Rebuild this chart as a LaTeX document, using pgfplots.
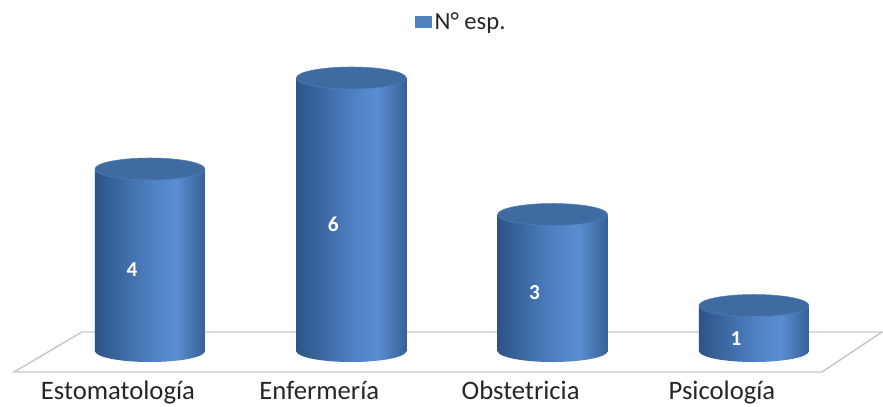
\documentclass[border=0pt]{standalone}
\usepackage{pgfplots}
\pgfplotsset{compat=1.18}
\usepackage{fontspec}
\setmainfont{Carlito}
\usetikzlibrary{calc}
\definecolor{cylA}{RGB}{44,84,136}
\definecolor{cylM}{RGB}{78,128,193}
\definecolor{cylB}{RGB}{90,142,210}
\definecolor{cylC}{RGB}{56,96,150}
\definecolor{cyltop}{RGB}{64,107,160}
\definecolor{legc}{RGB}{79,129,189}
\definecolor{floorc}{RGB}{200,200,200}
\pgfdeclarehorizontalshading{cyl}{100bp}{color(0bp)=(cylA); color(25bp)=(cylA); color(50bp)=(cylM); color(62bp)=(cylB); color(75bp)=(cylC); color(100bp)=(cylC)}
\pgfdeclareplotmark{cylbot}{%
  \pgfpathellipse{\pgfpointorigin}{\pgfqpoint{41.25pt}{0pt}}{\pgfqpoint{0pt}{8.25pt}}%
  \pgfshadepath{cyl}{0}\pgfusepath{discard}}
\pgfdeclareplotmark{cyltopm}{%
  \pgfpathellipse{\pgfpointorigin}{\pgfqpoint{41.25pt}{0pt}}{\pgfqpoint{0pt}{8.25pt}}%
  \pgfsetfillcolor{cyltop}\pgfsetstrokecolor{cylM}\pgfsetlinewidth{0.4pt}\pgfusepath{fill,stroke}}
\pgfplotsset{cylbar/.style={ybar, bar width=82.5pt, bar shift=0pt, draw=none, shading=cyl, forget plot}}
\begin{document}
\begin{tikzpicture}
\begin{axis}[
  name=ax,
  set layers,
  scale only axis,
  width=662.25pt, height=285pt,
  xmin=-0.745, xmax=3.641,
  ymin=-0.637, ymax=7.714,
  clip=false,
  axis line style={draw=none},
  tick style={draw=none},
  ytick=\empty,
  xtick={0,1,2,3},
  xticklabels={Estomatología,Enfermería,Obstetricia,Psicología},
  xticklabel style={font=\fontsize{20}{23}\selectfont, anchor=base, yshift=-15pt, xshift=-24pt, text=black!85},
  legend style={at={(rel axis cs:0.523,0.942)}, anchor=center, draw=none, fill=none,
    font=\fontsize{18.5}{21}\selectfont, text=black!85},
]
\draw[floorc, line width=1.1pt] (-0.6756,-0.4615) -- (3.338,-0.4615) -- (3.636,0.4176) -- (-0.3378,0.4176) -- cycle;
\addplot[only marks, mark=cylbot, forget plot, on layer=axis background, mark layer=like plot] coordinates {(0,0) (1,0) (2,0) (3,0)};
\addplot[cylbar] coordinates {(0,4)};
\addplot[cylbar] coordinates {(1,6)};
\addplot[cylbar] coordinates {(2,3)};
\addplot[cylbar] coordinates {(3,1)};
\addlegendimage{legend image code/.code={\fill[legc] (-5pt,-4.1pt) rectangle (7pt,4.1pt);}}
\addlegendentry{N° esp.}
\addplot[only marks, mark=cyltopm, forget plot] coordinates {(0,4) (1,6) (2,3) (3,1)};
\addplot[only marks, mark=none, forget plot, point meta=explicit symbolic,
  nodes near coords, nodes near coords align=center,
  every node near coord/.append style={text=white, font=\bfseries\fontsize{16}{18}\selectfont, xshift=-13.5pt, yshift=-7.5pt}]
  coordinates {(0,2) [4] (1,3) [6] (2,1.5) [3] (3,0.5) [1]};
\end{axis}
\pgfresetboundingbox
\path ($(ax.south west)+(0,-20.25pt)$) rectangle (ax.north east);
\end{tikzpicture}
\end{document}
